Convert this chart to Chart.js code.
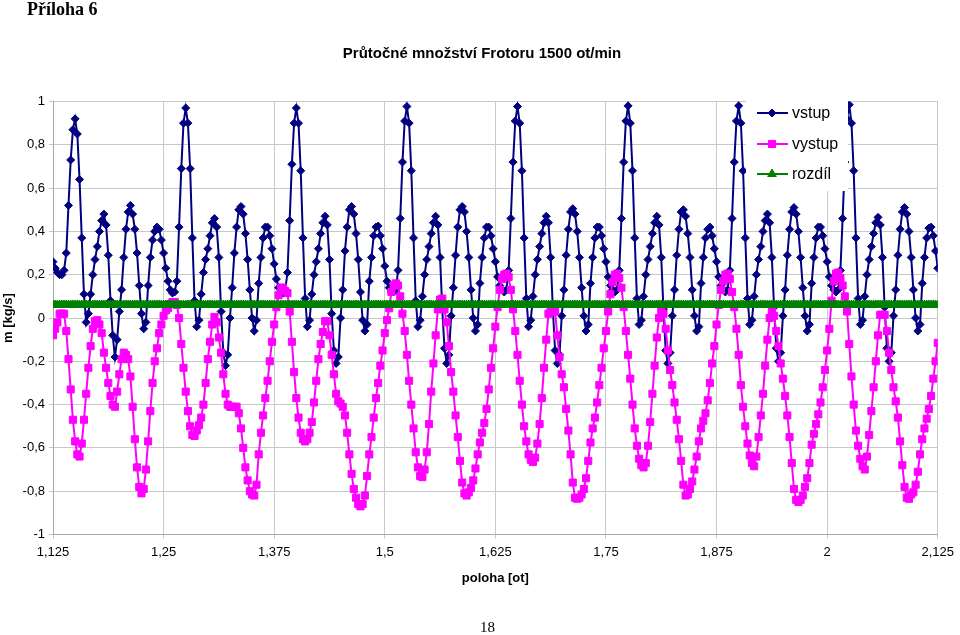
<!DOCTYPE html>
<html><head><meta charset="utf-8">
<script src="https://cdn.jsdelivr.net/npm/chart.js@4/dist/chart.umd.min.js"></script>
<style>
html,body{margin:0;padding:0;background:#fff;}
#wrap{position:relative;width:960px;height:635px;overflow:hidden;background:#fff;}
#c{position:absolute;left:0;top:0;}
.pg{position:absolute;font-family:"Liberation Serif","Times New Roman",serif;color:#000;line-height:1;white-space:nowrap;}
#priloha{left:27px;top:0px;font-size:18px;font-weight:bold;}
#pagenum{left:480px;top:620px;font-size:15px;}
</style></head><body>
<div id="wrap"><canvas id="c" width="960" height="635"></canvas>
<div class="pg" id="priloha">Příloha 6</div>
<div class="pg" id="pagenum">18</div></div>
<script>
const chartTitle = 'Průtočné množství Frotoru 1500 ot/min';
const xTitle = 'poloha [ot]';
const yTitle = 'm [kg/s]';
const seriesNames = ['vstup', 'vystup', 'rozdíl'];
const polohaStart = 1.125;
const polohaStep = 0.0025;
const xTicks = [1.125, 1.25, 1.375, 1.5, 1.625, 1.75, 1.875, 2, 2.125];
const yTicks = [-1, -0.8, -0.6, -0.4, -0.2, 0, 0.2, 0.4, 0.6, 0.8, 1];

const vstup = [
0.26,0.23,0.21,0.20,0.20,0.22,0.30,0.52,0.73,0.87,
0.92,0.85,0.64,0.37,0.11,-0.02,0.02,0.11,0.20,0.27,
0.33,0.40,0.45,0.48,0.43,0.29,0.08,-0.08,-0.18,-0.10,
0.03,0.13,0.28,0.41,0.49,0.52,0.48,0.41,0.30,0.15,
0.02,-0.05,-0.02,0.15,0.28,0.36,0.40,0.42,0.41,0.36,
0.30,0.23,0.17,0.13,0.115,0.12,0.17,0.42,0.69,0.90,
0.97,0.90,0.69,0.37,0.08,-0.04,-0.01,0.11,0.21,0.27,
0.32,0.38,0.44,0.46,0.42,0.28,0.03,-0.16,-0.22,-0.17,
0.00,0.14,0.30,0.42,0.50,0.515,0.48,0.39,0.27,0.13,
0.00,-0.06,-0.01,0.16,0.28,0.37,0.42,0.42,0.38,0.32,
0.25,0.18,0.14,0.12,0.115,0.13,0.21,0.45,0.71,0.90,
0.97,0.90,0.68,0.37,0.09,-0.04,-0.01,0.11,0.20,0.26,
0.32,0.39,0.44,0.47,0.43,0.27,0.02,-0.15,-0.21,-0.18,
0.00,0.13,0.31,0.42,0.50,0.515,0.48,0.39,0.27,0.12,
-0.01,-0.06,-0.03,0.17,0.28,0.38,0.42,0.425,0.38,0.32,
0.24,0.17,0.14,0.12,0.12,0.13,0.22,0.46,0.72,0.91,
0.977,0.90,0.68,0.37,0.08,-0.04,-0.01,0.10,0.20,0.27,
0.33,0.39,0.44,0.47,0.43,0.28,0.04,-0.14,-0.21,-0.17,
0.01,0.14,0.29,0.42,0.50,0.515,0.49,0.40,0.28,0.13,
0.00,-0.06,-0.03,0.16,0.28,0.37,0.42,0.42,0.38,0.32,
0.26,0.19,0.15,0.13,0.12,0.13,0.22,0.46,0.72,0.91,
0.977,0.90,0.68,0.37,0.09,-0.04,-0.01,0.10,0.20,0.27,
0.33,0.39,0.44,0.47,0.44,0.28,0.04,-0.15,-0.21,-0.17,
0.01,0.13,0.29,0.41,0.49,0.505,0.48,0.40,0.28,0.14,
0.01,-0.06,-0.03,0.16,0.28,0.37,0.42,0.42,0.38,0.32,
0.26,0.19,0.15,0.13,0.12,0.13,0.22,0.46,0.72,0.91,
0.98,0.90,0.68,0.37,0.09,-0.03,-0.01,0.10,0.20,0.27,
0.33,0.39,0.44,0.47,0.43,0.28,0.04,-0.15,-0.21,-0.16,
0.01,0.13,0.29,0.41,0.49,0.50,0.47,0.39,0.28,0.13,
0.01,-0.06,-0.04,0.16,0.28,0.37,0.41,0.42,0.38,0.32,
0.26,0.19,0.15,0.13,0.12,0.13,0.22,0.46,0.72,0.91,
0.98,0.90,0.68,0.37,0.09,-0.03,-0.01,0.10,0.20,0.27,
0.33,0.40,0.45,0.48,0.44,0.28,0.05,-0.14,-0.20,-0.16,
0.01,0.13,0.29,0.41,0.49,0.51,0.48,0.40,0.28,0.14,
0.01,-0.06,-0.03,0.16,0.28,0.37,0.42,0.42,0.38,0.32,
0.26,0.19,0.15,0.13,0.12,0.13,0.22,0.46,0.72,0.92,
0.985,0.90,0.68,0.37,0.09,-0.03,-0.01,0.10,0.20,0.27,
0.33,0.39,0.44,0.465,0.43,0.28,0.05,-0.14,-0.20,-0.16,
0.01,0.13,0.29,0.41,0.49,0.51,0.48,0.40,0.28,0.13,
0.00,-0.06,-0.03,0.16,0.28,0.37,0.415,0.42,0.38,0.31,
0.23
];

const vystup = [
-0.08,-0.05,-0.02,0.02,0.02,0.02,-0.06,-0.19,-0.33,-0.47,
-0.57,-0.63,-0.64,-0.58,-0.47,-0.35,-0.23,-0.13,-0.05,-0.015,
-0.01,-0.03,-0.07,-0.16,-0.23,-0.30,-0.36,-0.40,-0.41,-0.34,
-0.26,-0.19,-0.16,-0.17,-0.19,-0.27,-0.41,-0.56,-0.69,-0.78,
-0.81,-0.79,-0.70,-0.57,-0.43,-0.30,-0.20,-0.14,-0.07,-0.03,
0.01,0.035,0.045,0.065,0.074,0.074,0.06,0.00,-0.12,-0.23,
-0.34,-0.43,-0.50,-0.54,-0.545,-0.52,-0.495,-0.46,-0.40,-0.30,
-0.19,-0.11,-0.03,0.005,-0.02,-0.09,-0.16,-0.26,-0.35,-0.40,
-0.41,-0.41,-0.41,-0.41,-0.44,-0.51,-0.60,-0.69,-0.75,-0.80,
-0.815,-0.82,-0.77,-0.63,-0.53,-0.45,-0.37,-0.29,-0.20,-0.11,
-0.03,0.05,0.105,0.14,0.14,0.125,0.115,0.03,-0.11,-0.25,
-0.37,-0.46,-0.53,-0.56,-0.57,-0.56,-0.53,-0.48,-0.39,-0.29,
-0.19,-0.12,-0.065,-0.015,-0.015,-0.08,-0.17,-0.26,-0.35,-0.385,
-0.395,-0.41,-0.45,-0.53,-0.63,-0.72,-0.79,-0.83,-0.86,-0.87,
-0.86,-0.82,-0.73,-0.63,-0.55,-0.46,-0.37,-0.30,-0.22,-0.15,
-0.07,-0.01,0.045,0.12,0.15,0.16,0.15,0.10,0.02,-0.06,
-0.17,-0.29,-0.40,-0.51,-0.62,-0.69,-0.73,-0.735,-0.70,-0.62,
-0.49,-0.34,-0.21,-0.08,0.04,0.085,0.09,0.04,-0.02,-0.13,
-0.25,-0.34,-0.45,-0.55,-0.66,-0.76,-0.81,-0.82,-0.805,-0.785,
-0.75,-0.695,-0.63,-0.575,-0.53,-0.485,-0.42,-0.33,-0.23,-0.14,
-0.04,0.05,0.13,0.18,0.20,0.205,0.19,0.13,0.04,-0.06,
-0.17,-0.29,-0.40,-0.50,-0.57,-0.63,-0.655,-0.665,-0.645,-0.58,
-0.49,-0.37,-0.23,-0.10,0.02,0.03,0.03,0.03,-0.08,-0.18,
-0.26,-0.32,-0.42,-0.52,-0.63,-0.76,-0.83,-0.835,-0.83,-0.815,
-0.79,-0.74,-0.66,-0.575,-0.51,-0.46,-0.39,-0.31,-0.23,-0.14,
-0.06,0.03,0.11,0.165,0.20,0.205,0.185,0.14,0.05,-0.06,
-0.17,-0.28,-0.40,-0.51,-0.59,-0.65,-0.68,-0.69,-0.67,-0.59,
-0.48,-0.35,-0.22,-0.09,0.00,0.03,0.02,-0.05,-0.15,-0.24,
-0.31,-0.39,-0.47,-0.56,-0.66,-0.77,-0.82,-0.815,-0.79,-0.755,
-0.70,-0.64,-0.57,-0.51,-0.475,-0.44,-0.38,-0.30,-0.21,-0.13,
-0.03,0.06,0.13,0.17,0.20,0.205,0.18,0.12,0.05,-0.05,
-0.17,-0.31,-0.41,-0.50,-0.58,-0.635,-0.67,-0.685,-0.64,-0.55,
-0.45,-0.35,-0.22,-0.10,0.00,0.03,0.01,-0.06,-0.13,-0.21,
-0.28,-0.36,-0.45,-0.55,-0.67,-0.79,-0.84,-0.85,-0.84,-0.82,
-0.78,-0.74,-0.67,-0.585,-0.535,-0.49,-0.445,-0.39,-0.32,-0.24,
-0.15,-0.05,0.08,0.17,0.205,0.21,0.185,0.15,0.10,0.03,
-0.12,-0.27,-0.40,-0.52,-0.59,-0.65,-0.685,-0.70,-0.64,-0.54,
-0.43,-0.32,-0.20,-0.08,0.015,0.015,0.015,-0.06,-0.16,-0.24,
-0.32,-0.385,-0.46,-0.57,-0.68,-0.78,-0.83,-0.835,-0.815,-0.805,
-0.77,-0.71,-0.63,-0.56,-0.51,-0.465,-0.42,-0.36,-0.28,-0.20,
-0.115
];

const rozdil = [
0.06,0.06,0.06,0.06,0.06,0.06,0.06,0.06,0.06,0.06,0.06,0.06,0.06,0.06,0.06,0.06,0.06,0.06,0.06,0.06,
0.06,0.06,0.06,0.06,0.06,0.06,0.06,0.06,0.06,0.06,0.06,0.06,0.06,0.06,0.06,0.06,0.06,0.06,0.06,0.06,
0.06,0.06,0.06,0.06,0.06,0.06,0.06,0.06,0.06,0.06,0.06,0.06,0.06,0.06,0.06,0.06,0.06,0.06,0.06,0.06,
0.06,0.06,0.06,0.06,0.06,0.06,0.06,0.06,0.06,0.06,0.06,0.06,0.06,0.06,0.06,0.06,0.06,0.06,0.06,0.06,
0.06,0.06,0.06,0.06,0.06,0.06,0.06,0.06,0.06,0.06,0.06,0.06,0.06,0.06,0.06,0.06,0.06,0.06,0.06,0.06,
0.06,0.06,0.06,0.06,0.06,0.06,0.06,0.06,0.06,0.06,0.06,0.06,0.06,0.06,0.06,0.06,0.06,0.06,0.06,0.06,
0.06,0.06,0.06,0.06,0.06,0.06,0.06,0.06,0.06,0.06,0.06,0.06,0.06,0.06,0.06,0.06,0.06,0.06,0.06,0.06,
0.06,0.06,0.06,0.06,0.06,0.06,0.06,0.06,0.06,0.06,0.06,0.06,0.06,0.06,0.06,0.06,0.06,0.06,0.06,0.06,
0.06,0.06,0.06,0.06,0.06,0.06,0.06,0.06,0.06,0.06,0.06,0.06,0.06,0.06,0.06,0.06,0.06,0.06,0.06,0.06,
0.06,0.06,0.06,0.06,0.06,0.06,0.06,0.06,0.06,0.06,0.06,0.06,0.06,0.06,0.06,0.06,0.06,0.06,0.06,0.06,
0.06,0.06,0.06,0.06,0.06,0.06,0.06,0.06,0.06,0.06,0.06,0.06,0.06,0.06,0.06,0.06,0.06,0.06,0.06,0.06,
0.06,0.06,0.06,0.06,0.06,0.06,0.06,0.06,0.06,0.06,0.06,0.06,0.06,0.06,0.06,0.06,0.06,0.06,0.06,0.06,
0.06,0.06,0.06,0.06,0.06,0.06,0.06,0.06,0.06,0.06,0.06,0.06,0.06,0.06,0.06,0.06,0.06,0.06,0.06,0.06,
0.06,0.06,0.06,0.06,0.06,0.06,0.06,0.06,0.06,0.06,0.06,0.06,0.06,0.06,0.06,0.06,0.06,0.06,0.06,0.06,
0.06,0.06,0.06,0.06,0.06,0.06,0.06,0.06,0.06,0.06,0.06,0.06,0.06,0.06,0.06,0.06,0.06,0.06,0.06,0.06,
0.06,0.06,0.06,0.06,0.06,0.06,0.06,0.06,0.06,0.06,0.06,0.06,0.06,0.06,0.06,0.06,0.06,0.06,0.06,0.06,
0.06,0.06,0.06,0.06,0.06,0.06,0.06,0.06,0.06,0.06,0.06,0.06,0.06,0.06,0.06,0.06,0.06,0.06,0.06,0.06,
0.06,0.06,0.06,0.06,0.06,0.06,0.06,0.06,0.06,0.06,0.06,0.06,0.06,0.06,0.06,0.06,0.06,0.06,0.06,0.06,
0.06,0.06,0.06,0.06,0.06,0.06,0.06,0.06,0.06,0.06,0.06,0.06,0.06,0.06,0.06,0.06,0.06,0.06,0.06,0.06,
0.06,0.06,0.06,0.06,0.06,0.06,0.06,0.06,0.06,0.06,0.06,0.06,0.06,0.06,0.06,0.06,0.06,0.06,0.06,0.06,
0.06
];

const poloha = vstup.map((_, i) => Math.round((polohaStart + i * polohaStep) * 10000) / 10000);
const toPoints = ys => ys.map((y, i) => ({ x: poloha[i], y: y }));
const fmt = v => String(Math.round(v * 1000) / 1000).replace('.', ',');
const FAM = '"Liberation Sans", Arial, sans-serif';

const boxLegend = {
  id: 'boxLegend',
  afterDatasetsDraw(chart) {
    const ctx = chart.ctx;
    ctx.save();
    ctx.fillStyle = '#ffffff';
    ctx.fillRect(746, 94, 102, 97);
    const rows = [113, 144, 174];
    chart.data.datasets.forEach((ds, i) => {
      const y = rows[i];
      ctx.strokeStyle = ds.borderColor;
      ctx.lineWidth = ds.borderWidth;
      ctx.beginPath(); ctx.moveTo(757, y); ctx.lineTo(788, y); ctx.stroke();
      ctx.fillStyle = ds.pointBackgroundColor;
      ctx.strokeStyle = ds.pointBorderColor;
      ctx.lineWidth = 1;
      Chart.helpers.drawPoint(ctx, { pointStyle: ds.pointStyle, radius: ds.pointRadius, borderWidth: 1, rotation: 0 }, 772, y);
      ctx.fillStyle = '#000';
      ctx.font = '16px ' + FAM;
      ctx.textBaseline = 'middle';
      ctx.textAlign = 'left';
      ctx.fillText(ds.label, 792, y + 1);
    });
    ctx.restore();
  }
};

new Chart(document.getElementById('c'), {
  type: 'line',
  data: {
    datasets: [
      { label: seriesNames[0], data: toPoints(vstup), borderColor: '#000080', backgroundColor: '#000080',
        pointBackgroundColor: '#000080', pointBorderColor: '#000080', borderWidth: 2,
        pointStyle: 'rectRot', pointRadius: 4, pointBorderWidth: 1, tension: 0, order: 3 },
      { label: seriesNames[1], data: toPoints(vystup), borderColor: '#ff00ff', backgroundColor: '#ff00ff',
        pointBackgroundColor: '#ff00ff', pointBorderColor: '#ff00ff', borderWidth: 2,
        pointStyle: 'rect', pointRadius: 5, pointBorderWidth: 1, tension: 0, order: 2 },
      { label: seriesNames[2], data: toPoints(rozdil), borderColor: '#008000', backgroundColor: '#008000',
        pointBackgroundColor: '#008000', pointBorderColor: '#008000', borderWidth: 2,
        pointStyle: 'triangle', pointRadius: 5, pointBorderWidth: 1, tension: 0, order: 1 }
    ]
  },
  options: {
    responsive: false,
    animation: false,
    devicePixelRatio: 1,
    layout: { padding: { left: 22, top: 0, right: 18, bottom: 0 } },
    plugins: {
      legend: { display: false },
      tooltip: { enabled: false },
      title: { display: true, text: chartTitle, color: '#000',
        font: { family: FAM, size: 15, weight: 'bold', lineHeight: 1.2 },
        padding: { top: 45, bottom: 38.5 } }
    },
    scales: {
      x: {
        type: 'linear', min: 1.125, max: 2.125,
        afterBuildTicks: s => { s.ticks = xTicks.map(v => ({ value: v })); },
        afterFit: s => { s.height = 100.5; },
        ticks: { color: '#000', font: { family: FAM, size: 13 }, padding: 6, maxRotation: 0, autoSkip: false,
          callback: v => fmt(v) },
        grid: { color: '#c8c8c8', lineWidth: 1, tickLength: 4, drawTicks: true },
        border: { color: '#a8a8a8' },
        title: { display: true, text: xTitle, color: '#000', font: { family: FAM, size: 13, weight: 'bold' },
          padding: { top: 0, bottom: 49 } }
      },
      y: {
        type: 'linear', min: -1, max: 1,
        afterBuildTicks: s => { s.ticks = yTicks.map(v => ({ value: v })); },
        afterFit: s => { s.width = 31; },
        ticks: { color: '#000', font: { family: FAM, size: 13 }, padding: 4, callback: v => fmt(v) },
        grid: { color: '#c8c8c8', lineWidth: 1, tickLength: 4, drawTicks: true },
        border: { color: '#a8a8a8' },
        title: { display: true, text: yTitle, color: '#000', font: { family: FAM, size: 13, weight: 'bold' },
          padding: { top: -21, bottom: 0 } }
      }
    }
  },
  plugins: [boxLegend]
});
</script>
</body></html>
